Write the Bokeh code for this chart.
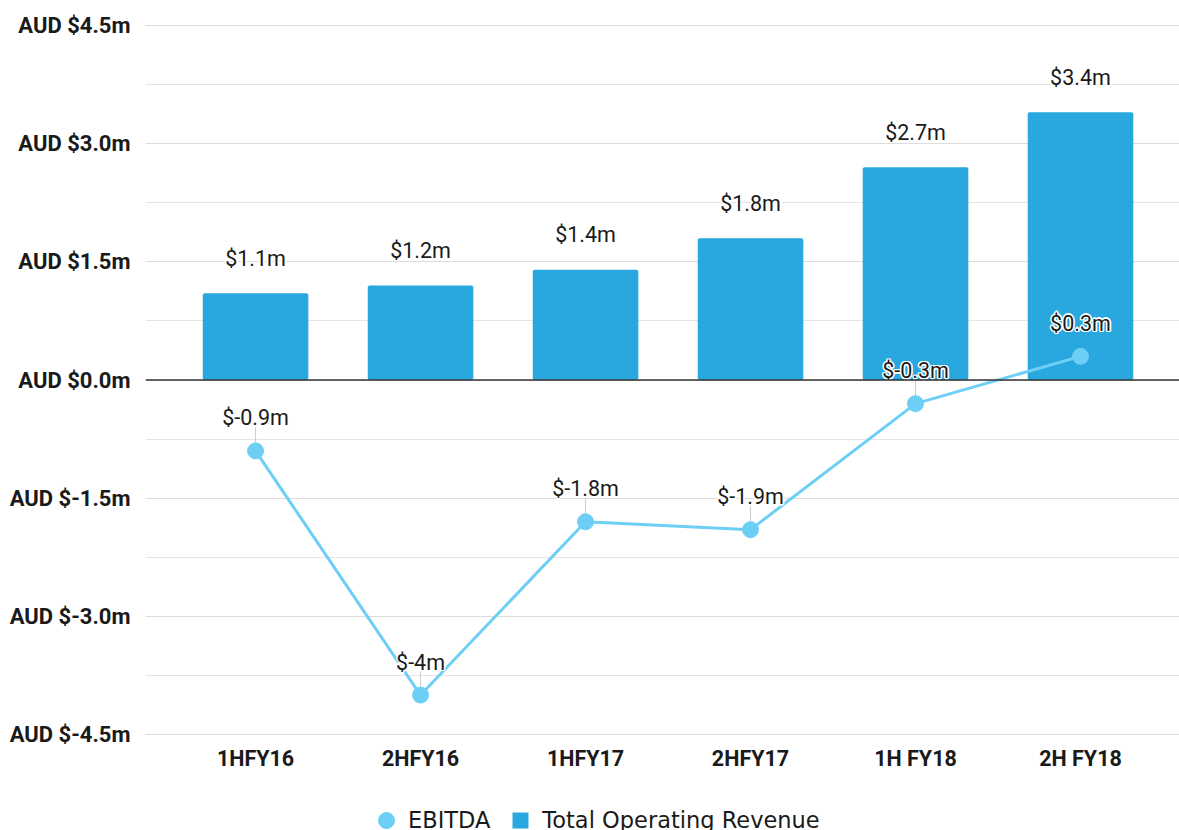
from bokeh.plotting import figure
from bokeh.models import ColumnDataSource, Range1d, FixedTicker, Span, Legend, LegendItem
from bokeh.core.properties import value
from bokeh.embed import file_html
from bokeh.resources import INLINE

categories = ["1HFY16", "2HFY16", "1HFY17", "2HFY17", "1H FY18", "2H FY18"]
revenue = [1.1, 1.2, 1.4, 1.8, 2.7, 3.4]
ebitda = [-0.9, -4.0, -1.8, -1.9, -0.3, 0.3]
revenue_labels = ["$1.1m", "$1.2m", "$1.4m", "$1.8m", "$2.7m", "$3.4m"]
ebitda_labels = ["$-0.9m", "$-4m", "$-1.8m", "$-1.9m", "$-0.3m", "$0.3m"]
y_ticks = [-4.5, -3.0, -1.5, 0.0, 1.5, 3.0, 4.5]
y_minor_ticks = [-3.75, -2.25, -0.75, 0.75, 2.25, 3.75]
y_tick_labels = ["AUD $-4.5m", "AUD $-3.0m", "AUD $-1.5m", "AUD $0.0m",
                 "AUD $1.5m", "AUD $3.0m", "AUD $4.5m"]

BAR = "#29a8e0"
LINE = "#6dcff6"
TXT = "#1a1a1a"
FS = "21.5px"

xs = list(range(len(categories)))
src = ColumnDataSource(dict(x=xs, rev=revenue, ebitda=ebitda,
                            rl=revenue_labels, el=ebitda_labels,
                            lead=[v + 0.3 for v in ebitda]))
cat_src = ColumnDataSource(dict(x=xs, y=[y_ticks[0]] * len(xs), c=categories))

# frame spans down to the bottom of the canvas so that the category labels
# and legend (drawn inside it) are not clipped
p = figure(width=1179, height=830, output_backend="svg", toolbar_location=None,
           x_range=Range1d(-0.667, 0.6 + len(categories) - 1),
           y_range=Range1d(-5.719, 4.513),
           min_border_left=145, min_border_right=0, min_border_top=24,
           min_border_bottom=0)
p.outline_line_color = None
p.background_fill_color = "white"
p.xaxis.visible = False

yt = FixedTicker(ticks=y_ticks, minor_ticks=y_minor_ticks)
p.yaxis.ticker = yt
p.ygrid.ticker = yt
p.yaxis.major_label_overrides = {t: l for t, l in zip(y_ticks, y_tick_labels)}
p.ygrid.grid_line_color = "#dcdcdc"
p.ygrid.minor_grid_line_color = "#e4e4e4"
p.xgrid.grid_line_color = None
ax = p.yaxis[0]
ax.axis_line_color = None
ax.major_tick_line_color = None
ax.minor_tick_line_color = None
ax.major_tick_out = 0
ax.minor_tick_out = 0
ax.major_label_text_font = "Roboto"
ax.major_label_text_font_style = "bold"
ax.major_label_text_font_size = "22px"
ax.major_label_text_color = TXT
ax.major_label_standoff = 15

# category labels under the bottom gridline
p.text(x="x", y="y", text="c", source=cat_src, text_align="center",
       text_baseline="middle", y_offset=24, text_font=value("Roboto"),
       text_font_style="bold", text_font_size=FS, text_color=TXT)

# leader lines
p.segment(x0="x", y0="ebitda", x1="x", y1="lead", source=src,
          line_color="#cccccc", line_width=1)

p.vbar(x="x", top="rev", bottom=0, width=0.64, source=src, fill_color=BAR,
       line_color=None, border_radius=2)

p.add_layout(Span(location=0, dimension="width", line_color="#333333", line_width=1.5))

p.line(x="x", y="ebitda", source=src, line_color=LINE, line_width=3)
pts = p.scatter(x="x", y="ebitda", source=src, marker="circle", size=16,
                fill_color=LINE, line_color=LINE)
# zero-size square markers: only used as the legend swatch for the revenue bars
rev_key = p.scatter(x="x", y="rev", source=src, marker="square", size=0,
                    fill_color=BAR, line_color=None)

offs = [(-1.5, 0), (1.5, 0), (0, -1.5), (0, 1.5), (-1.1, -1.1), (1.1, 1.1), (-1.1, 1.1), (1.1, -1.1)]
for col, ycol, yo in (("rl", "rev", -35), ("el", "ebitda", -33)):
    for dx, dy in offs:
        p.text(x="x", y=ycol, text=col, source=src, text_align="center",
               text_baseline="middle", x_offset=dx, y_offset=yo + dy,
               text_font=value("Roboto"), text_font_size=FS, text_color="white")
    p.text(x="x", y=ycol, text=col, source=src, text_align="center",
           text_baseline="middle", y_offset=yo,
           text_font=value("Roboto"), text_font_size=FS, text_color=TXT)

legend = Legend(items=[LegendItem(label="EBITDA", renderers=[pts], index=0),
                       LegendItem(label="Total Operating Revenue", renderers=[rev_key], index=0)],
                orientation="horizontal", location=(221, -10),
                glyph_width=40, glyph_height=40, label_standoff=2, spacing=10,
                padding=0, margin=0, border_line_color=None,
                background_fill_alpha=0, label_text_font="DejaVu Sans",
                label_text_font_size="22.5px", label_text_color=TXT)
p.add_layout(legend, "center")

open("out.html", "w").write(file_html(p, INLINE))
